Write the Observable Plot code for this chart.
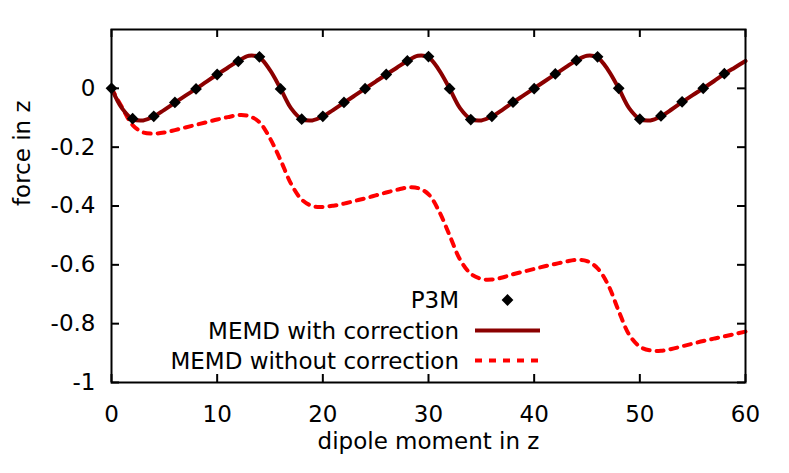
<!DOCTYPE html>
<html>
<head>
<meta charset="utf-8">
<script src="https://cdn.jsdelivr.net/npm/d3@7"></script>
<script src="https://cdn.jsdelivr.net/npm/@observablehq/plot@0.6"></script>
<style>
  html, body { margin: 0; padding: 0; background: #fff; }
  #chart { position: relative; width: 789px; height: 473px; }
  #legend { position: absolute; left: 0; top: 0; pointer-events: none; }
</style>
</head>
<body>
<div id="chart"></div>
<script>
// ---- data ----
const xTicks = [0, 10, 20, 30, 40, 50, 60];
const yTicks = [0, -0.2, -0.4, -0.6, -0.8, -1];

const seriesNames = ["P3M", "MEMD with correction", "MEMD without correction"];

// P3M reference points
const p3mX = [0, 2, 4, 6, 8, 10, 12, 14, 16, 18, 20, 22, 24, 26, 28, 30, 32, 34, 36, 38, 40, 42, 44, 46, 48, 50, 52, 54, 56, 58];
const p3mY = [0.000, -0.103, -0.095, -0.048, -0.002, 0.047, 0.092, 0.107,
              -0.002, -0.105, -0.095, -0.048, -0.001, 0.047, 0.093, 0.108,
              -0.001, -0.106, -0.095, -0.047, -0.001, 0.049, 0.095, 0.107,
               0.000, -0.105, -0.094, -0.046, 0.000, 0.050];

// MEMD curves sampled at each unit of dipole moment
const lineX = [0, 1, 2, 3, 4, 5, 6, 7, 8, 9, 10, 11, 12, 13, 14, 15, 16, 17, 18, 19, 20,
               21, 22, 23, 24, 25, 26, 27, 28, 29, 30, 31, 32, 33, 34, 35, 36, 37, 38, 39, 40,
               41, 42, 43, 44, 45, 46, 47, 48, 49, 50, 51, 52, 53, 54, 55, 56, 57, 58, 59, 60];
const withCorr = [0.000, -0.068, -0.104, -0.109, -0.096, -0.073, -0.049, -0.025, -0.002, 0.023, 0.047, 0.070, 0.093, 0.111, 0.105, 0.062,
                  -0.001, -0.068, -0.104, -0.109, -0.096, -0.073, -0.049, -0.025, -0.001, 0.023, 0.047, 0.070, 0.093, 0.111, 0.106, 0.062,
                  -0.001, -0.068, -0.104, -0.109, -0.096, -0.073, -0.048, -0.024, 0.000, 0.024, 0.048, 0.072, 0.095, 0.111, 0.105, 0.062,
                   0.000, -0.068, -0.104, -0.109, -0.095, -0.072, -0.047, -0.023, 0.000, 0.024, 0.049, 0.071, 0.093];
const withoutCorr = [0.000, -0.065, -0.125, -0.150, -0.154, -0.150, -0.142, -0.133, -0.124, -0.115, -0.106, -0.098, -0.091, -0.094, -0.115, -0.170,
                     -0.244, -0.325, -0.378, -0.400, -0.403, -0.399, -0.392, -0.383, -0.374, -0.364, -0.354, -0.345, -0.337, -0.339, -0.360, -0.418,
                     -0.500, -0.583, -0.630, -0.648, -0.650, -0.643, -0.632, -0.623, -0.614, -0.605, -0.597, -0.589, -0.583, -0.587, -0.612, -0.668,
                     -0.757, -0.838, -0.878, -0.891, -0.892, -0.886, -0.877, -0.868, -0.859, -0.851, -0.843, -0.835, -0.827];

const xLabel = "dipole moment in z";
const yLabel = "force in z";

// ---- tables built from the arrays ----
const p3m = p3mX.map((x, i) => ({x, y: p3mY[i]}));
const lineWith = lineX.map((x, i) => ({x, y: withCorr[i]}));
const lineWithout = lineX.map((x, i) => ({x, y: withoutCorr[i]}));

const W = 789, H = 473, mL = 111, mR = 44, mT = 29, mB = 91;
const frameW = W - mL - mR, frameH = H - mT - mB, tick = 8;
const colors = {p3m: "#000000", with: "#8b0000", without: "#ff0000"};
const font = "'DejaVu Sans', Verdana, sans-serif";

const chart = Plot.plot({
  width: W, height: H,
  marginLeft: mL, marginRight: mR, marginTop: mT, marginBottom: mB,
  x: {domain: [0, 60]},
  y: {domain: [-1, 0.2]},
  style: {fontFamily: font, fontSize: "23px", background: "white", color: "black"},
  marks: [
    Plot.axisX(xTicks, {tickSize: 0, tickPadding: 23, label: null, tickFormat: d => String(d)}),
    Plot.axisY(yTicks, {tickSize: 0, tickPadding: 16, label: null, tickFormat: d => String(d)}),
    // inward ticks on all four sides
    Plot.tickX(xTicks, {x: d => d, stroke: "black", strokeWidth: 2, insetTop: frameH - tick}),
    Plot.tickX(xTicks, {x: d => d, stroke: "black", strokeWidth: 2, insetBottom: frameH - tick}),
    Plot.tickY(yTicks, {y: d => d, stroke: "black", strokeWidth: 2, insetRight: frameW - tick}),
    Plot.tickY(yTicks, {y: d => d, stroke: "black", strokeWidth: 2, insetLeft: frameW - tick}),
    Plot.line(lineWithout, {x: "x", y: "y", stroke: colors.without, strokeWidth: 4, strokeDasharray: "7,7", curve: "catmull-rom"}),
    Plot.line(lineWith, {x: "x", y: "y", stroke: colors.with, strokeWidth: 4, curve: "catmull-rom"}),
    Plot.dot(p3m, {x: "x", y: "y", symbol: "diamond2", r: 5.3, fill: colors.p3m, stroke: "none"}),
    Plot.frame({stroke: "black", strokeWidth: 2}),
    Plot.text([xLabel], {text: d => d, frameAnchor: "bottom", dy: 66, fill: "black"}),
    Plot.text([yLabel], {text: d => d, frameAnchor: "left", dx: -89, rotate: -90, fill: "black"})
  ]
});
document.getElementById("chart").appendChild(chart);

// ---- key (inside the plot area, as in the reference) ----
const legend = d3.select("#chart").append("svg")
  .attr("id", "legend").attr("width", W).attr("height", H)
  .style("font-family", font).style("font-size", "23px");
const rowY = [300, 330.5, 360.5];
const textRight = 459, sampleX1 = 475, sampleX2 = 540;
seriesNames.forEach((name, i) => {
  legend.append("text").attr("x", textRight).attr("y", rowY[i]).attr("dy", "0.35em")
    .attr("text-anchor", "end").attr("fill", "black").text(name);
});
legend.append("path")
  .attr("d", d3.symbol(d3.symbolDiamond2, Math.PI * 5.3 * 5.3)())
  .attr("transform", `translate(${(sampleX1 + sampleX2) / 2},${rowY[0]})`)
  .attr("fill", colors.p3m);
legend.append("line").attr("x1", sampleX1).attr("x2", sampleX2).attr("y1", rowY[1]).attr("y2", rowY[1])
  .attr("stroke", colors.with).attr("stroke-width", 4);
legend.append("line").attr("x1", sampleX1).attr("x2", sampleX2).attr("y1", rowY[2]).attr("y2", rowY[2])
  .attr("stroke", colors.without).attr("stroke-width", 4).attr("stroke-dasharray", "7,7");
</script>
</body>
</html>
